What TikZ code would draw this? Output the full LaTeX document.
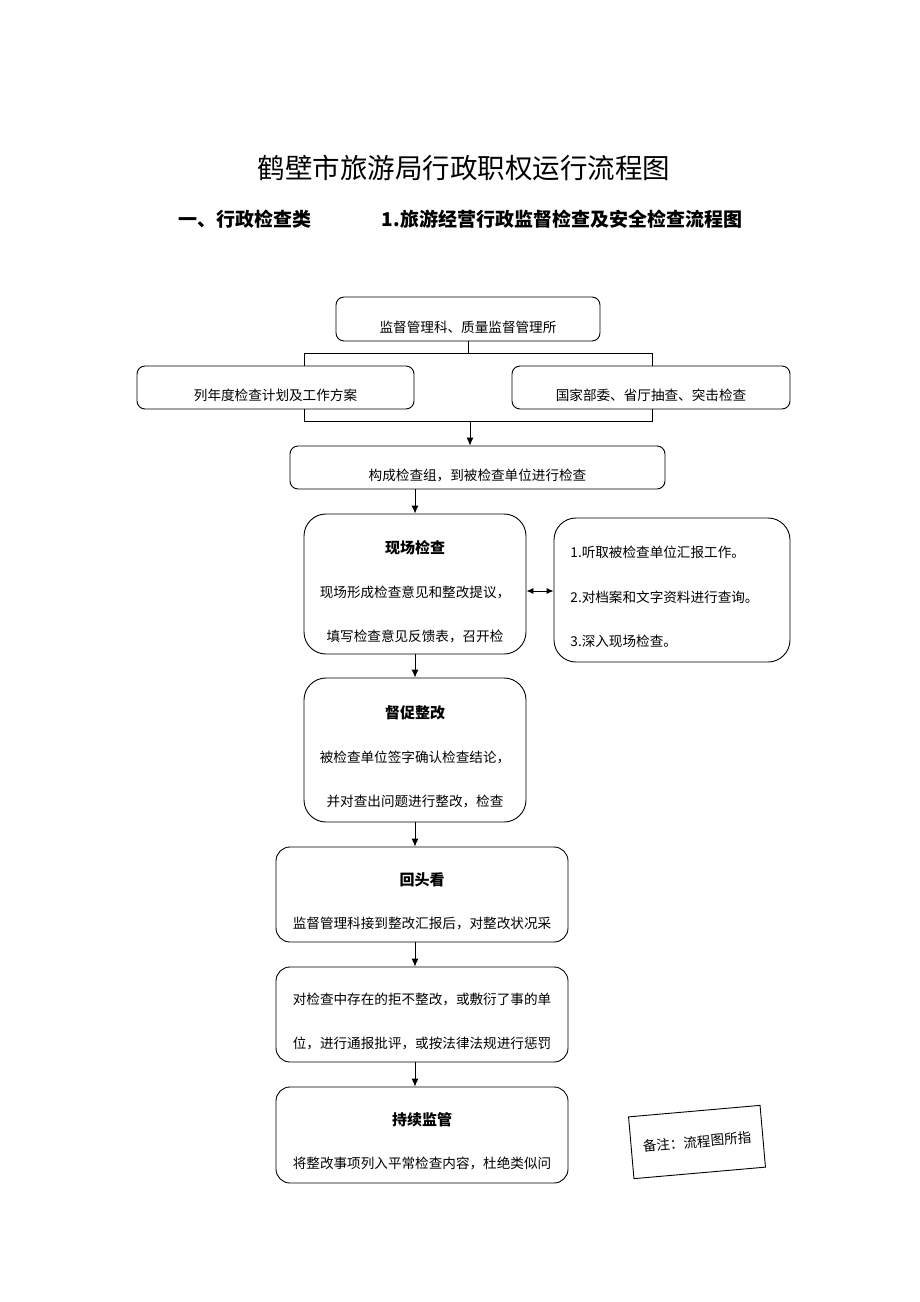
\documentclass[tikz,border=0pt]{standalone}
\usepackage{fontspec}
\setmainfont{Noto Sans CJK SC}
\usetikzlibrary{positioning,arrows.meta}
\begin{document}
\begin{tikzpicture}[x=1pt,y=-1pt,line width=0.9pt,
            box/.style={
              draw,
              rounded corners=8pt,
              inner sep=0pt
            },
            bigbox/.style={
              draw,
              rounded corners=22pt,
              inner sep=0pt
            },
            txt/.style={
              font=\fontsize{13.6}{16}\selectfont,
              inner sep=0pt
            },
            head/.style={
              font=\fontsize{15}{18}\selectfont\bfseries,
              inner sep=0pt
            },
            arr/.style={-{Latex[length=8pt,width=7pt]}}
            ]
            \useasboundingbox (0,0) rectangle (920,1302);
            \node[font=\fontsize{27.5}{32}\selectfont] (title) at (464,168)
              {鹤壁市旅游局行政职权运行流程图};
            \node[font=\fontsize{19}{22}\selectfont\bfseries] (sub1) at (245,219)
              {一、行政检查类};
            \node[font=\fontsize{19}{22}\selectfont\bfseries] (sub2) at (562,219)
              {1.旅游经营行政监督检查及安全检查流程图};
            
            \node[box,minimum width=264,minimum height=44] (top) at (468,319) {};
            \node[txt] at (468,327) {监督管理科、质量监督管理所};
            \node[box,minimum width=277,minimum height=43] (plan) at (275.5,387.5) {};
            \node[txt] at (275.5,395) {列年度检查计划及工作方案};
            \node[box,minimum width=278,minimum height=43] (spot) at (651,387.5) {};
            \node[txt] at (651,395) {国家部委、省厅抽查、突击检查};
            \node[box,minimum width=375,minimum height=43] (group) at (477.5,467.5) {};
            \node[txt] at (477.5,475) {构成检查组，到被检查单位进行检查};
            
            \coordinate (tl) at (304,353);
            \coordinate (tr) at (652,353);
            \coordinate (bl) at (304,421);
            \coordinate (br) at (652,421);
            \draw (top.south) -- (468,353);
            \draw (plan.north -| tl) -- (tl) -- (tr) -- (spot.north -| tr);
            \draw (plan.south -| bl) -- (bl) -- (br) -- (spot.south -| br);
            \draw[arr] (470,421) -- (group.north -| 470,0);
            
            % 现场检查
            \node[bigbox,minimum width=222,minimum height=140] (xc) at (415,584) {};
            \node[head] at (415,548) {现场检查};
            \node[txt] at (415,592) {现场形成检查意见和整改提议，};
            \node[txt] at (415,636) {填写检查意见反馈表，召开检};
            \node[bigbox,minimum width=236,minimum height=144] (list) at (672,590) {};
            \node[txt,anchor=west] at (570,552) {1.听取被检查单位汇报工作。};
            \node[txt,anchor=west] at (570,597) {2.对档案和文字资料进行查询。};
            \node[txt,anchor=west] at (570,641) {3.深入现场检查。};
            \draw[{Latex[length=7pt,width=6pt]}-{Latex[length=7pt,width=6pt]}] (xc.east |- 0,591) -- (list.west |- 0,591);
            
            % 督促整改
            \node[bigbox,minimum width=222,minimum height=144] (dc) at (415,750) {};
            \node[head] at (415,713) {督促整改};
            \node[txt] at (415,757) {被检查单位签字确认检查结论，};
            \node[txt] at (415,801) {并对查出问题进行整改，检查};
            
            % 回头看
            \node[box,minimum width=292,minimum height=95,rounded corners=14pt] (hk) at (422,894.5) {};
            \node[head] at (422,880) {回头看};
            \node[txt] at (422,923) {监督管理科接到整改汇报后，对整改状况采};
            
            \node[box,minimum width=292,minimum height=95,rounded corners=14pt] (cf) at (422,1014.5) {};
            \node[txt] at (422,999) {对检查中存在的拒不整改，或敷衍了事的单};
            \node[txt] at (422,1043) {位，进行通报批评，或按法律法规进行惩罚};
            
            % 持续监管
            \node[box,minimum width=292,minimum height=96,rounded corners=14pt] (jg) at (422,1135) {};
            \node[head] at (422,1120) {持续监管};
            \node[txt] at (422,1163) {将整改事项列入平常检查内容，杜绝类似问};
            
            \node[draw,rotate=5,minimum width=132,minimum height=62,txt] (note) at (697,1142) {备注：流程图所指};
            
            \draw[arr] (group.south -| 415,0) -- (xc.north);
            \draw[arr] (xc.south) -- (dc.north);
            \draw[arr] (dc.south) -- (hk.north -| 415,0);
            \draw[arr] (hk.south -| 415,0) -- (cf.north -| 415,0);
            \draw[arr] (cf.south -| 415,0) -- (jg.north -| 415,0);
\end{tikzpicture}
\end{document}
